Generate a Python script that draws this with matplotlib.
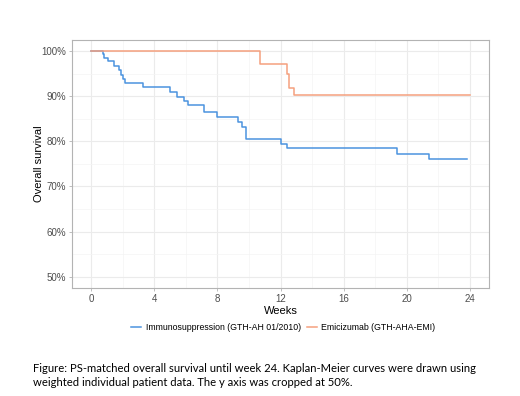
import numpy as np
import matplotlib.pyplot as plt
from matplotlib.ticker import FuncFormatter, MultipleLocator

# Kaplan-Meier step data (weeks, survival %)
immuno_weeks = [0, 0.72, 0.82, 1.05, 1.47, 1.73, 1.90, 2.0, 2.17, 3.3, 5.0, 5.46,
                5.88, 6.15, 7.16, 8.0, 9.3, 9.56, 9.84, 12.0, 12.4, 19.4, 21.4, 23.8]
immuno_surv = [100, 99.3, 98.6, 97.8, 96.8, 95.8, 94.8, 93.8, 92.9, 92.0, 90.9, 89.9,
               89.0, 88.1, 86.6, 85.4, 84.4, 83.3, 80.5, 79.4, 78.6, 77.3, 76.2, 76.2]

emi_weeks = [0, 10.7, 12.4, 12.56, 12.84, 24]
emi_surv = [100, 97.1, 95.0, 91.9, 90.2, 90.2]

x_ticks = [0, 4, 8, 12, 16, 20, 24]
y_ticks = [50, 60, 70, 80, 90, 100]

blue = '#4b93df'
orange = '#f5a07e'

plt.rcParams['font.family'] = ['Liberation Sans', 'DejaVu Sans']

fig = plt.figure(figsize=(5.2, 3.96), dpi=100)
ax = fig.add_axes([0.139, 0.273, 0.801, 0.626])

ax.step(immuno_weeks, immuno_surv, where='post', color=blue, lw=1.1,
        label='Immunosuppression (GTH-AH 01/2010)', zorder=3)
ax.step(emi_weeks, emi_surv, where='post', color=orange, lw=1.1,
        label='Emicizumab (GTH-AHA-EMI)', zorder=4)

ax.set_xlim(-1.2, 25.2)
ax.set_ylim(47.5, 102.5)
ax.set_xticks(x_ticks)
ax.set_yticks(y_ticks)
ax.xaxis.set_minor_locator(MultipleLocator(2))
ax.yaxis.set_minor_locator(MultipleLocator(5))
ax.yaxis.set_major_formatter(FuncFormatter(lambda v, p: f'{v:.0f}%'))

ax.grid(which='major', color='#ebebeb', lw=0.8)
ax.grid(which='minor', color='#f4f4f4', lw=0.5)
ax.set_axisbelow(True)
for s in ax.spines.values():
    s.set_color('#b3b3b3')
    s.set_linewidth(0.8)
ax.tick_params(which='major', length=2.5, width=0.6, color='#b3b3b3',
               labelsize=7, labelcolor='#4d4d4d', pad=2)
ax.tick_params(which='minor', length=0)

ax.set_xlabel('Weeks', fontsize=8, labelpad=1)
ax.set_ylabel('Overall survival', fontsize=8, labelpad=-2)

fig.legend(loc='center', bbox_to_anchor=(0.545, 1 - 328 / 396), ncol=2,
           frameon=False, fontsize=6.3, handlelength=1.15, columnspacing=0.6,
           handletextpad=0.55)

fig.text(0.063, 1 - 368 / 396, 'Figure: PS-matched overall survival until week 24. Kaplan-Meier curves were drawn using',
         fontsize=8.1, family='Lato', va='center')
fig.text(0.063, 1 - 383 / 396, 'weighted individual patient data. The y axis was cropped at 50%.',
         fontsize=8.1, family='Lato', va='center')

fig.savefig('out.png', dpi=100)
